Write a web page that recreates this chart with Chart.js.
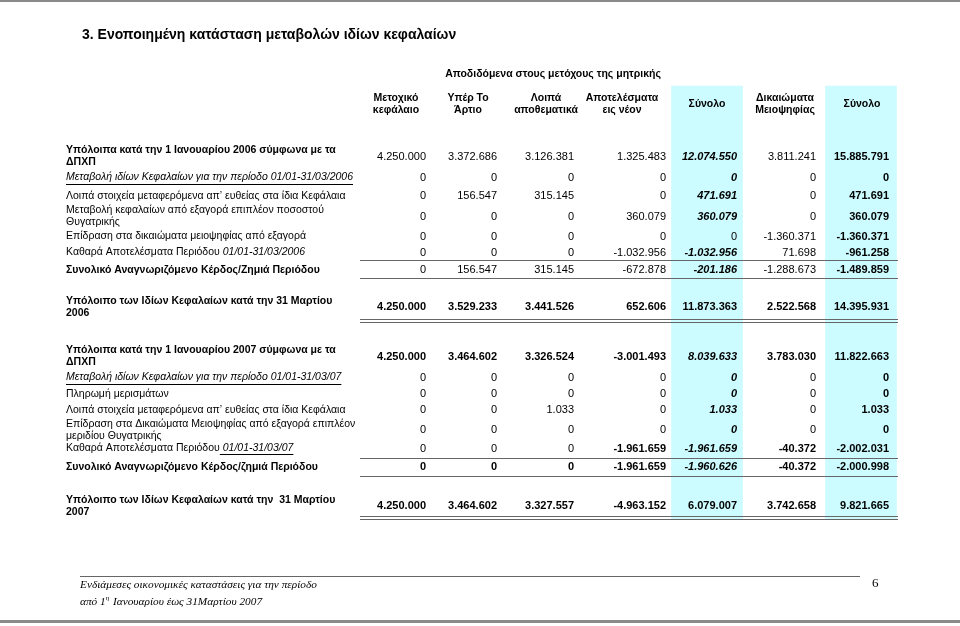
<!DOCTYPE html>
<html>
<head>
<meta charset="utf-8">
<title>Ενοποιημένη κατάσταση μεταβολών ιδίων κεφαλαίων</title>
<script src="https://cdn.jsdelivr.net/npm/chart.js"></script>
<style>
  html, body { margin: 0; padding: 0; background: #fff; }
  canvas { display: block; }
</style>
</head>
<body>
<canvas id="equityTable" width="960" height="626"></canvas>
<script>
// ---- table content ----
const title = '3. Ενοποιημένη κατάσταση μεταβολών ιδίων κεφαλαίων';
const groupHeader = 'Αποδιδόμενα στους μετόχους της μητρικής';
const colHeaders = [
    ['Μετοχικό', 'κεφάλαιο'],
    ['Υπέρ Το', 'Άρτιο'],
    ['Λοιπά', 'αποθεματικά'],
    ['Αποτελέσματα', 'εις νέον'],
    ['Σύνολο'],
    ['Δικαιώματα', 'Μειοψηφίας'],
    ['Σύνολο']
];
const rowLabels = [
    ['Υπόλοιπα κατά την 1 Ιανουαρίου 2006 σύμφωνα με τα', 'ΔΠΧΠ'],
    ['Μεταβολή ιδίων Κεφαλαίων για την περίοδο 01/01-31/03/2006'],
    ['Λοιπά στοιχεία μεταφερόμενα απ’ ευθείας στα ίδια Κεφάλαια'],
    ['Μεταβολή κεφαλαίων από εξαγορά επιπλέον ποσοστού', 'Θυγατρικής'],
    ['Επίδραση στα δικαιώματα μειοψηφίας από εξαγορά'],
    ['Καθαρά Αποτελέσματα Περιόδου'],
    ['Συνολικό Αναγνωριζόμενο Κέρδος/Ζημιά Περιόδου'],
    ['Υπόλοιπο των Ιδίων Κεφαλαίων κατά την 31 Μαρτίου', '2006'],
    ['Υπόλοιπα κατά την 1 Ιανουαρίου 2007 σύμφωνα με τα', 'ΔΠΧΠ'],
    ['Μεταβολή ιδίων Κεφαλαίων για την περίοδο 01/01-31/03/07'],
    ['Πληρωμή μερισμάτων'],
    ['Λοιπά στοιχεία μεταφερόμενα απ’ ευθείας στα ίδια Κεφάλαια'],
    ['Επίδραση στα Δικαιώματα Μειοψηφίας από εξαγορά επιπλέον', 'μεριδίου Θυγατρικής'],
    ['Καθαρά Αποτελέσματα Περιόδου'],
    ['Συνολικό Αναγνωριζόμενο Κέρδος/ζημιά Περιόδου'],
    ['Υπόλοιπο των Ιδίων Κεφαλαίων κατά την  31 Μαρτίου', '2007']
];
// italic period text that follows some labels
const rowTails = ['', '', '', '', '', ' 01/01-31/03/2006', '', '', '', '', '', '', '', ' 01/01-31/03/07', '', ''];

// one array per column, one value per row
const shareCapital     = [4250000, 0, 0, 0, 0, 0, 0, 4250000, 4250000, 0, 0, 0, 0, 0, 0, 4250000];
const sharePremium     = [3372686, 0, 156547, 0, 0, 0, 156547, 3529233, 3464602, 0, 0, 0, 0, 0, 0, 3464602];
const otherReserves    = [3126381, 0, 315145, 0, 0, 0, 315145, 3441526, 3326524, 0, 0, 1033, 0, 0, 0, 3327557];
const retainedEarnings = [1325483, 0, 0, 360079, 0, -1032956, -672878, 652606, -3001493, 0, 0, 0, 0, -1961659, -1961659, -4963152];
const parentTotal      = [12074550, 0, 471691, 360079, 0, -1032956, -201186, 11873363, 8039633, 0, 0, 1033, 0, -1961659, -1960626, 6079007];
const minority         = [3811241, 0, 0, 0, -1360371, 71698, -1288673, 2522568, 3783030, 0, 0, 0, 0, -40372, -40372, 3742658];
const grandTotal       = [15885791, 0, 471691, 360079, -1360371, -961258, -1489859, 14395931, 11822663, 0, 0, 1033, 0, -2002031, -2000998, 9821665];
const columns = [shareCapital, sharePremium, otherReserves, retainedEarnings, parentTotal, minority, grandTotal];

const footerLine1 = 'Ενδιάμεσες οικονομικές καταστάσεις για την περίοδο';
const footerLine2 = ['από 1', 'η', ' Ιανουαρίου έως 31Μαρτίου 2007'];
const pageNumber = '6';

// ---- layout and styles ----
const colRight  = [426, 497, 574, 666, 737, 816, 889];
const colCenter = [396, 468, 546, 622, 707, 785, 862];
const rowY = [156.5, 177.5, 196, 216.5, 236.5, 252.5, 270, 307, 356.5, 377.5, 394, 410, 430, 448.5, 467, 506];
const labelX = 66;
const bandX = [707, 861];
const bandSpan = [86, 519];
const ruleY = [260.5, 278.5, 319.5, 322.5, 458.5, 476.5, 516.5, 519.5];
const ruleSpan = [360, 898];
// b = bold, iu = italic underlined, n = normal
const labelStyle = ['b', 'iu', 'n', 'n', 'n', 'n', 'b', 'b', 'b', 'iu', 'n', 'n', 'n', 'n', 'b', 'b'];
const tailStyle  = ['', '', '', '', '', 'i', '', '', '', '', '', '', '', 'iu', '', ''];
// per cell: n = normal, b = bold, i = bold italic
const cellStyle = [
    'nnnninb', 'nnnninb', 'nnnninb', 'nnnninb', 'nnnnnnb', 'nnnninb', 'nnnninb', 'bbbbbbb',
    'bbbbibb', 'nnnninb', 'nnnninb', 'nnnninb', 'nnnninb', 'nnnbibb', 'bbbbibb', 'bbbbbbb'
];

const SANS = '"Liberation Sans", Arial, sans-serif';
const SERIF = '"Liberation Serif", "Times New Roman", serif';

function fmt(v) {
    const s = Math.abs(v).toString().replace(/\B(?=(\d{3})+(?!\d))/g, '.');
    return (v < 0 ? '-' : '') + s;
}

function cellFont(code) {
    if (code === 'b') return 'bold 11px ' + SANS;
    if (code === 'i') return 'italic bold 11px ' + SANS;
    return '11px ' + SANS;
}

function labelFont(code) {
    if (code === 'b') return 'bold 10.5px ' + SANS;
    if (code === 'i' || code === 'iu') return 'italic 10.5px ' + SANS;
    return '10.5px ' + SANS;
}

function underline(ctx, x, y, w) {
    ctx.fillRect(x, Math.round(y + 6), w, 1);
}

// draws all the text of the table on top of the bands and rules
const tableText = {
    id: 'tableText',
    afterDatasetsDraw(chart) {
        const ctx = chart.ctx;
        const xs = chart.scales.x, ys = chart.scales.y;
        ctx.save();
        ctx.textBaseline = 'middle';

        // page borders
        ctx.fillStyle = '#8a8a8a';
        ctx.fillRect(xs.getPixelForValue(0), ys.getPixelForValue(0), 960, 2);
        ctx.fillRect(xs.getPixelForValue(0), ys.getPixelForValue(620), 960, 3);
        ctx.fillStyle = '#000';

        // title
        ctx.font = 'bold 14px ' + SANS;
        ctx.textAlign = 'left';
        ctx.fillText(title, xs.getPixelForValue(82), ys.getPixelForValue(35));

        // headers
        ctx.font = 'bold 10.5px ' + SANS;
        ctx.textAlign = 'center';
        ctx.fillText(groupHeader, xs.getPixelForValue(553), ys.getPixelForValue(74));
        colHeaders.forEach((lines, c) => {
            const x = xs.getPixelForValue(colCenter[c]);
            if (lines.length === 1) {
                ctx.fillText(lines[0], x, ys.getPixelForValue(104));
            } else {
                ctx.fillText(lines[0], x, ys.getPixelForValue(98));
                ctx.fillText(lines[1], x, ys.getPixelForValue(110.5));
            }
        });

        // row labels
        ctx.textAlign = 'left';
        rowLabels.forEach((lines, r) => {
            const x = xs.getPixelForValue(labelX);
            ctx.font = labelFont(labelStyle[r]);
            lines.forEach((txt, k) => {
                const off = lines.length === 1 ? 0 : (k === 0 ? -6 : 6);
                const y = ys.getPixelForValue(rowY[r] + off);
                ctx.fillText(txt, x, y);
                if (labelStyle[r] === 'iu') underline(ctx, x, y, ctx.measureText(txt).width);
                if (rowTails[r] && k === lines.length - 1) {
                    const tx = x + ctx.measureText(txt).width;
                    ctx.font = labelFont(tailStyle[r]);
                    ctx.fillText(rowTails[r], tx, y);
                    if (tailStyle[r] === 'iu') underline(ctx, tx, y, ctx.measureText(rowTails[r]).width);
                }
            });
        });

        // cells: placed at the points of the cell datasets
        ctx.textAlign = 'right';
        chart.data.datasets.forEach((ds, i) => {
            if (ds.colIndex === undefined) return;
            const c = ds.colIndex;
            chart.getDatasetMeta(i).data.forEach((pt, r) => {
                ctx.font = cellFont(cellStyle[r][c]);
                ctx.fillText(fmt(columns[c][r]), pt.x, pt.y);
            });
        });

        // footer
        ctx.fillStyle = '#666';
        ctx.fillRect(xs.getPixelForValue(80), ys.getPixelForValue(576), 780, 1);
        ctx.fillStyle = '#000';
        ctx.textAlign = 'left';
        ctx.font = 'italic 11.3px ' + SERIF;
        let fx = xs.getPixelForValue(80);
        ctx.fillText(footerLine1, fx, ys.getPixelForValue(585));
        const fy = ys.getPixelForValue(602);
        ctx.fillText(footerLine2[0], fx, fy);
        fx += ctx.measureText(footerLine2[0]).width;
        ctx.font = 'italic 7px ' + SERIF;
        ctx.fillText(footerLine2[1], fx, fy - 4);
        fx += ctx.measureText(footerLine2[1]).width + 1;
        ctx.font = 'italic 11.3px ' + SERIF;
        ctx.fillText(footerLine2[2], fx, fy);
        ctx.font = '13px ' + SERIF;
        ctx.fillText(pageNumber, xs.getPixelForValue(872), ys.getPixelForValue(584));
        ctx.restore();
    }
};

const datasets = [];

// light blue bands behind the two total columns
datasets.push({
    type: 'bar',
    data: bandX.map(x => ({ x: x, y: bandSpan })),
    backgroundColor: '#ccfcff',
    borderWidth: 0,
    barThickness: 71,
    order: 3
});

// horizontal rules
ruleY.forEach(y => {
    datasets.push({
        type: 'line',
        data: ruleSpan.map(x => ({ x: x, y: y })),
        borderColor: '#666',
        borderWidth: 1,
        pointRadius: 0,
        fill: false,
        order: 2
    });
});

// one invisible point per cell
columns.forEach((col, c) => {
    datasets.push({
        type: 'scatter',
        colIndex: c,
        data: col.map((v, r) => ({ x: colRight[c], y: rowY[r] })),
        pointRadius: 0,
        order: 1
    });
});

new Chart(document.getElementById('equityTable').getContext('2d'), {
    type: 'scatter',
    data: { datasets: datasets },
    options: {
        responsive: false,
        animation: false,
        events: [],
        devicePixelRatio: 1,
        layout: { padding: 0 },
        plugins: { legend: { display: false }, tooltip: { enabled: false } },
        scales: {
            x: { type: 'linear', min: 0, max: 960, offset: false, display: false },
            y: { type: 'linear', min: 0, max: 626, reverse: true, display: false }
        }
    },
    plugins: [tableText]
});
</script>
</body>
</html>
